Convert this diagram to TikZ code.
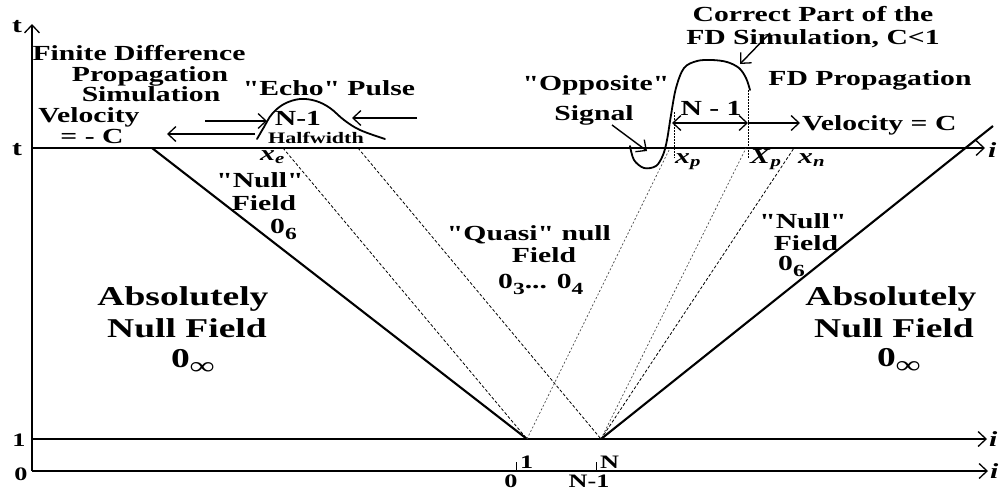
\documentclass[tikz,border=0pt]{standalone}
\usepackage{fontspec}
\setmainfont{Liberation Serif}[FakeStretch=1.38, Ligatures=TeXOff]
\usetikzlibrary{arrows.meta}
\newcommand{\xlab}[2]{\textit{#1}\textsubscript{\textit{#2}}}
\newcommand{\msub}[1]{\raisebox{-6pt}{\fontsize{17}{17}\selectfont #1}}
\newcommand{\bsub}[1]{\raisebox{-7pt}{\fontsize{25}{25}\selectfont #1}}
\tikzset{
  med/.style={font=\fontsize{21.5}{23}\selectfont\bfseries, inner sep=0pt, anchor=base},
  big/.style={font=\fontsize{27.2}{30}\selectfont\bfseries, inner sep=0pt, anchor=base},
  sml/.style={font=\fontsize{16}{18}\selectfont\bfseries, inner sep=0pt, anchor=base},
  tck/.style={font=\fontsize{19}{20}\selectfont\bfseries, inner sep=0pt, anchor=base},
  axis/.style={line width=1.5pt},
  tipd/.style={-{Straight Barb[length=8pt,width=15pt,line width=1.3pt]}},
  tipb/.style={{Straight Barb[length=8pt,width=15pt,line width=1.3pt]}-{Straight Barb[length=8pt,width=15pt,line width=1.3pt]}},
  solid line/.style={line width=2.1pt},
  dsh/.style={line width=0.8pt, dash pattern=on 3pt off 2pt},
  dtt/.style={line width=0.7pt, dash pattern=on 2pt off 2pt, black!70},
  curve/.style={line width=1.8pt, line cap=round, line join=round},
  arr/.style={line width=1.4pt}
}
\begin{document}
\begin{tikzpicture}[x=1pt,y=-1pt]
\useasboundingbox (0,0) rectangle (999,491);
% key points
\coordinate (O) at (32,471);
\coordinate (Top) at (32,24);
\coordinate (tL) at (32,148);
\coordinate (tR) at (985,148);
\coordinate (oneL) at (32,439);
\coordinate (oneR) at (987,439);
\coordinate (zeroR) at (988,471);
\coordinate (P1) at (527,439);
\coordinate (PN) at (601,439);
\coordinate (Lend) at (152,148);
\coordinate (Rend) at (993,126);
\coordinate (XE) at (283,148);
\coordinate (EE) at (358,148);
\coordinate (XP) at (670,148);
\coordinate (XPc) at (746,148);
\coordinate (XN) at (794,148);
% axes
\draw[axis, tipd] (O) -- (Top);
\draw[axis, tipd] (tL) -- (tR);
\draw[axis, tipd] (oneL) -- (oneR);
\draw[axis, tipd] (O) -- (zeroR);
% ticks
\draw[line width=0.8pt] (516,471) -- (516,462);
\draw[line width=0.8pt] (596,471) -- (596,462);
% solid characteristics
\draw[solid line] (Lend) -- (P1);
\draw[solid line] (PN) -- (Rend);
% dashed characteristics
\draw[dsh] (XE) -- (P1);
\draw[dsh] (EE) -- (PN);
\draw[dtt] (P1) -- (XP);
\draw[dtt] (PN) -- (XPc);
\draw[dsh] (PN) -- (XN);
% vertical dotted
\draw[line width=0.7pt, dash pattern=on 1.5pt off 1.5pt] (674,112) -- (674,158);
\draw[line width=0.7pt, dash pattern=on 1.5pt off 1.5pt] (748,90) -- (748,158);
% echo pulse
\draw[curve] plot[smooth, tension=0.6] coordinates {(257,139) (264,127) (272,114) (284,104) (300,99) (316,101) (330,108) (344,120) (360,130) (385,139)};
% FD pulse
\draw[curve] plot[smooth, tension=0.55] coordinates {(630,146) (634,160) (644,168) (656,166) (663,155) (667,140) (671,115) (676,88) (684,68) (697,61) (712,60) (727,62) (739,68) (746,78) (750,90)};
% echo arrows
\coordinate (a1s) at (205,121); \coordinate (a1e) at (267,121);
\coordinate (a2s) at (417,118); \coordinate (a2e) at (352,118);
\coordinate (a3s) at (255,134); \coordinate (a3e) at (167,134);
\draw[arr, tipd] (a1s) -- (a1e);
\draw[arr, tipd] (a2s) -- (a2e);
\draw[arr, tipd] (a3s) -- (a3e);
% FD arrows
\coordinate (b1) at (672,123); \coordinate (b2) at (748,123); \coordinate (b3) at (800,123);
\draw[arr, tipb] (b1) -- (b2);
\draw[arr, tipd] (b2) -- (b3);
\coordinate (c1) at (770,33); \coordinate (c2) at (740,64);
\draw[arr, tipd] (c1) -- (c2);
\coordinate (d1) at (612,125); \coordinate (d2) at (647,151);
\draw[arr, tipd] (d1) -- (d2);
% labels
\node[med] (tTop) at (17,32) {t};
\node[med] (tMid) at (17,155) {t};
\node[tck] (one) at (19,446) {1};
\node[tck] (zero) at (21,480) {0};
\node[med] (fd1) at (139,60) {Finite Difference};
\node[med] (fd2) at (150,81) {Propagation};
\node[med] (fd3) at (151,101) {Simulation};
\node[med] (vel1) at (89,122) {Velocity};
\node[med] (vel2) at (92,143) {= - C};
\node[med] (echo) at (329,95) {"Echo" Pulse};
\node[med] (nm1) at (298,125) {N-1};
\node[sml] (half) at (316,143) {Halfwidth};
\node[med, anchor=base west] (xe) at (260,160) {\xlab{x}{e}};
\node[med] (corr1) at (813,21) {Correct Part of the};
\node[med] (corr2) at (813,44) {FD Simulation, C<1};
\node[med] (fdprop) at (870,85) {FD Propagation};
\node[med] (opp1) at (596,90) {"Opposite"};
\node[med] (opp2) at (594,120) {Signal};
\node[med] (nm1b) at (711,115) {N - 1};
\node[med, anchor=base west] (velC) at (802,130) {Velocity = C};
\node[med, anchor=base west] (xp) at (675,163) {\xlab{x}{p}};
\node[med, anchor=base west] (Xp) at (750,163) {\xlab{X}{p}};
\node[med, anchor=base west] (xn) at (798,163) {\xlab{x}{n}};
\node[med] (nullL1) at (260,187) {"Null"};
\node[med] (nullL2) at (264,210) {Field};
\node[med, anchor=base west] (nullL3) at (270,233) {0\msub{6}};
\node[med] (quasi1) at (529,240) {"Quasi" null};
\node[med] (quasi2) at (544,262) {Field};
\node[med, anchor=base west] (quasi3) at (498,288) {0\msub{3}... 0\msub{4}};
\node[med] (nullR1) at (803,228) {"Null"};
\node[med] (nullR2) at (806,250) {Field};
\node[med, anchor=base west] (nullR3) at (778,270) {0\msub{6}};
\node[big] (absL1) at (183,305) {Absolutely};
\node[big] (absL2) at (187,337) {Null Field};
\node[big, anchor=base west] (absL3) at (171,367) {0\bsub{∞}};
\node[big] (absR1) at (891,305) {Absolutely};
\node[big] (absR2) at (894,337) {Null Field};
\node[big, anchor=base west] (absR3) at (877,366) {0\bsub{∞}};
\node[med, anchor=base west] (iT) at (988,157) {\textit{i}};
\node[med, anchor=base west] (i1) at (989,446) {\textit{i}};
\node[med, anchor=base west] (i0) at (990,478) {\textit{i}};
\node[tck, anchor=base west] (b1l) at (520,468) {1};
\node[tck, anchor=base west] (bNl) at (600,468) {N};
\node[tck] (b0l) at (511,487) {0};
\node[tck] (bN1l) at (589,487) {N-1};
\end{tikzpicture}
\end{document}
